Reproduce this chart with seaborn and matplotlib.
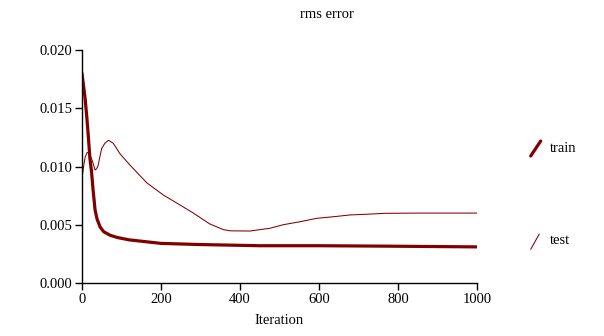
import matplotlib
matplotlib.use("Agg")
import matplotlib.pyplot as plt
import seaborn as sns
import pandas as pd
from matplotlib.lines import Line2D

train_iter = [0, 8, 12, 16, 20, 24, 28, 33, 38, 46, 55, 71, 90, 120, 160, 200, 300, 450, 600, 780, 1000]
train_rms = [0.0180, 0.0158, 0.0143, 0.0126, 0.0107, 0.0096, 0.0080, 0.0063, 0.0055, 0.0048, 0.0044,
             0.0041, 0.0039, 0.0037, 0.00355, 0.0034, 0.0033, 0.0032, 0.0032, 0.00316, 0.0031]

test_iter = [0, 4, 8, 13, 16, 20, 27, 33, 37, 41, 45, 50, 58, 67, 79, 96, 122, 164, 206, 248,
             282, 324, 358, 375, 425, 476, 509, 552, 594, 640, 678, 720, 767, 850, 1000]
test_rms = [0.0090, 0.0100, 0.0108, 0.0112, 0.0112, 0.0110, 0.0104, 0.0097, 0.0098, 0.0101, 0.0108,
            0.01156, 0.0120, 0.01225, 0.0120, 0.0111, 0.0101, 0.0086, 0.00755, 0.0067,
            0.0060, 0.00506, 0.00458, 0.00448, 0.00446, 0.0047, 0.0050, 0.00526, 0.00555,
            0.0057, 0.00584, 0.0059, 0.00598, 0.0060, 0.0060]

series_names = ["train", "test"]
x_ticks = [0, 200, 400, 600, 800, 1000]
y_ticks = [0.000, 0.005, 0.010, 0.015, 0.020]

sns.set_theme(style="white")
plt.rcParams["font.family"] = ["Liberation Serif", "DejaVu Serif"]

df = pd.concat([
    pd.DataFrame({"Iteration": train_iter, "rms": train_rms, "series": series_names[0]}),
    pd.DataFrame({"Iteration": test_iter, "rms": test_rms, "series": series_names[1]}),
])

color = "#800000"
fig = plt.figure(figsize=(6.04, 3.36), dpi=100)
ax = fig.add_axes([82 / 604, 1 - 283 / 336, (477 - 82) / 604, (283 - 50) / 336])

sns.lineplot(data=df, x="Iteration", y="rms", hue="series", size="series",
             palette={"train": color, "test": color}, sizes={"train": 2.3, "test": 0.75},
             legend=False, ax=ax, estimator=None, sort=False)

ax.set_xlim(0, 1000)
ax.set_ylim(0, 0.020)
ax.set_xticks(x_ticks)
ax.set_yticks(y_ticks)
ax.set_xticklabels([str(v) for v in x_ticks])
ax.set_yticklabels([f"{v:.3f}" for v in y_ticks])
ax.tick_params(axis="both", direction="out", length=5, width=1, colors="black",
               labelsize=10.5, pad=2, bottom=True, left=True)
for s in ["top", "right"]:
    ax.spines[s].set_visible(False)
for s in ["left", "bottom"]:
    ax.spines[s].set_color("black")
    ax.spines[s].set_linewidth(1)
ax.set_ylabel("")
ax.set_xlabel("Iteration", fontsize=10.5, color="black", labelpad=6)
fig.text(327 / 604, 1 - 14 / 336, "rms error", ha="center", va="center", fontsize=10.5, color="black")

# legend
fig.add_artist(Line2D([530.7 / 604, 540.7 / 604], [1 - 156 / 336, 1 - 141 / 336],
                      transform=fig.transFigure, color=color, lw=2.3))
fig.text(550 / 604, 1 - 148 / 336, "train", ha="left", va="center", fontsize=10.5, color="black")
fig.add_artist(Line2D([530.7 / 604, 539.3 / 604], [1 - 249.3 / 336, 1 - 234 / 336],
                      transform=fig.transFigure, color=color, lw=0.75))
fig.text(550 / 604, 1 - 241 / 336, "test", ha="left", va="center", fontsize=10.5, color="black")

fig.savefig("out.png", dpi=100)
